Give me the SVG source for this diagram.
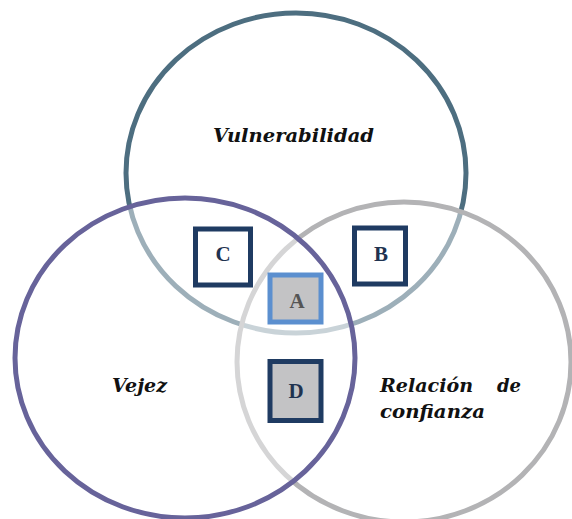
<svg xmlns="http://www.w3.org/2000/svg" width="572" height="519" viewBox="0 0 572 519">
<style>
.lbl{font-family:"DejaVu Serif","Liberation Serif",serif;font-weight:bold;font-style:italic;font-size:19px;fill:#111}
.let{font-family:"Liberation Serif","Times New Roman",serif;font-weight:bold;font-size:21px;text-anchor:middle}
.box{stroke-width:5}
</style>
<rect width="572" height="519" fill="#ffffff"/>
<g id="vulnerabilidad">
<ellipse cx="296" cy="173" rx="170" ry="160" fill="#ffffff" stroke="#4d6e80" stroke-width="5"/>
<text class="lbl" x="213" y="142" textLength="161" lengthAdjust="spacingAndGlyphs">Vulnerabilidad</text>
</g>
<g id="relacion">
<ellipse cx="404" cy="362" rx="167" ry="160" fill="#ffffff" fill-opacity="0.45" stroke="#b3b3b5" stroke-width="5"/>
<text class="lbl" x="380" y="392" textLength="93" lengthAdjust="spacingAndGlyphs">Relación</text>
<text class="lbl" x="497" y="392" textLength="24" lengthAdjust="spacingAndGlyphs">de</text>
<text class="lbl" x="380" y="418" textLength="105" lengthAdjust="spacingAndGlyphs">confianza</text>
</g>
<g id="vejez">
<ellipse cx="185" cy="358" rx="170" ry="160" fill="#ffffff" fill-opacity="0.45" stroke="#67639a" stroke-width="5"/>
<text class="lbl" x="112" y="392" textLength="55" lengthAdjust="spacingAndGlyphs">Vejez</text>
</g>
<g id="C">
<rect class="box" x="195.5" y="229" width="55" height="56" fill="#ffffff" stroke="#1f3b62"/>
<text class="let" x="223" y="261" fill="#1f3350">C</text>
</g>
<g id="B">
<rect class="box" x="354.5" y="228" width="51" height="56" fill="#ffffff" stroke="#1f3b62"/>
<text class="let" x="381" y="261" fill="#1f3350">B</text>
</g>
<g id="A">
<rect class="box" x="270" y="275" width="51" height="47" fill="#c3c3c5" stroke="#5b8fcf"/>
<text class="let" x="297" y="308" fill="#555555">A</text>
</g>
<g id="D">
<rect class="box" x="270" y="361.5" width="51" height="59" fill="#c3c3c5" stroke="#1f3b62"/>
<text class="let" x="296" y="398" fill="#1f3350">D</text>
</g>
<g id="connectors"></g>
</svg>
